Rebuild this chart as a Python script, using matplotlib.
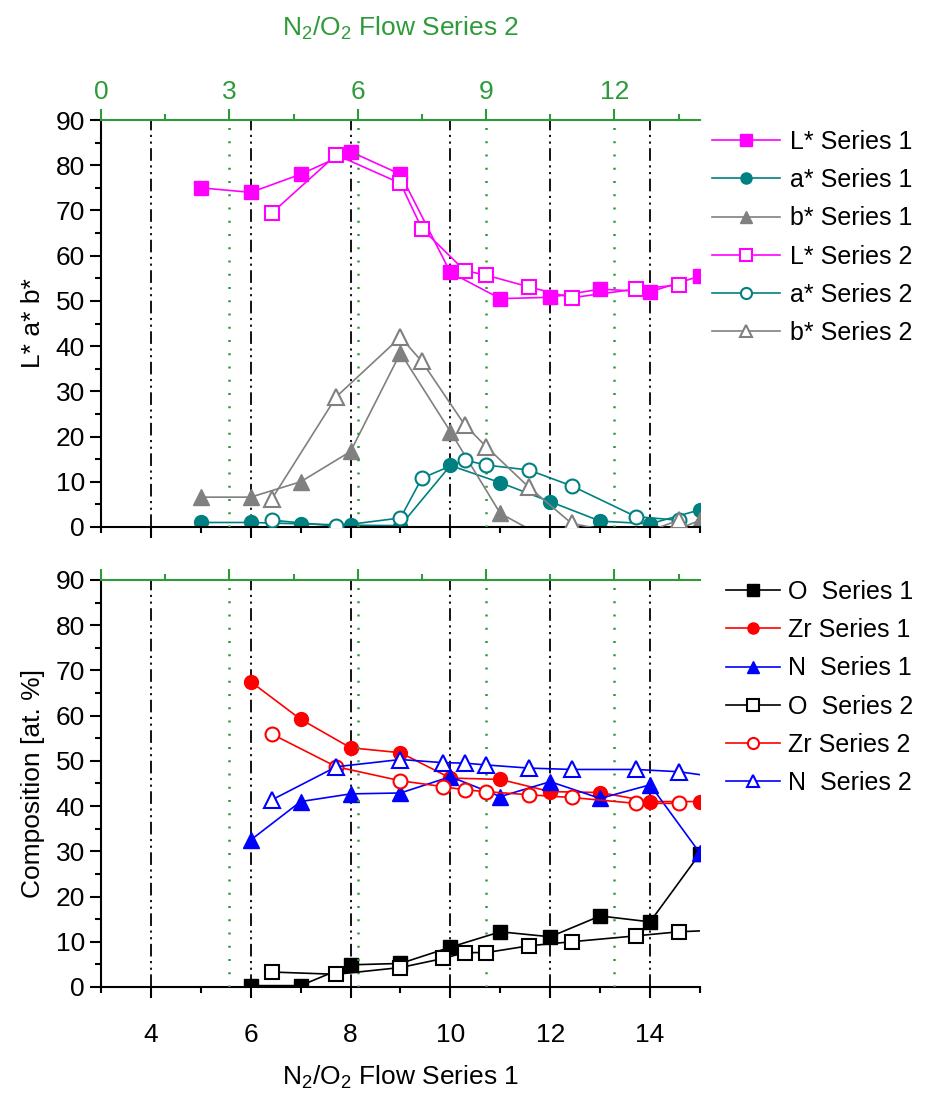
import numpy as np
import matplotlib
matplotlib.use("Agg")
import matplotlib.pyplot as plt
from matplotlib.ticker import MultipleLocator

plt.rcParams['font.family'] = ['Liberation Sans', 'DejaVu Sans']
plt.rcParams['mathtext.default'] = 'regular'

# ---- data: series 1 (bottom axis) ----
x_lab1 = [5, 6, 7, 8, 9, 10, 11, 12, 13, 14, 15]
L_s1 = [75, 74, 78, 83, 78, 56.3, 50.5, 50.8, 52.6, 52, 55.5]
a_s1 = [1, 1, 0.7, 0.4, 0.3, 13.6, 9.8, 5.6, 1.3, 0.7, 3.8]
b_s1 = [6.6, 6.6, 10, 16.7, 38.5, 21.1, 3, -3, -3, -3, 1.5]

# ---- data: series 2 (top axis) ----
x_lab2 = [4, 5.5, 7, 7.5, 8.5, 9, 10, 11, 12.5, 13.5]
L_s2 = [69.5, 82.3, 76, 66, 56.7, 55.7, 53.1, 50.7, 52.6, 53.5]
a_s2 = [1.5, 0.2, 2, 10.8, 14.8, 13.7, 12.6, 9.1, 2.3, 1.5]
b_s2 = [6.3, 28.8, 42, 36.6, 22.6, 17.8, 8.8, 0.8, -2, 1.5]

# ---- composition ----
x_comp1 = [6, 7, 8, 9, 10, 11, 12, 13, 14, 15]
O_s1 = [0.3, 0.3, 4.9, 5.2, 8.8, 12.2, 11.1, 15.7, 14.4, 29.5]
Zr_s1 = [67.5, 59.2, 52.9, 51.8, 46.2, 45.9, 43.2, 43, 41, 41]
N_s1 = [32.5, 41, 42.7, 42.9, 46.5, 42.1, 45.4, 41.7, 44.7, 29.6]

x_comp2 = [4, 5.5, 7, 8, 8.5, 9, 10, 11, 12.5, 13.5, 14.5]
O_s2 = [3.3, 2.8, 4.3, 6.3, 7.6, 7.6, 9.1, 10, 11.3, 12.2, 12.6]
Zr_s2 = [55.9, 48.7, 45.6, 44.3, 43.6, 43.2, 42.5, 41.9, 40.6, 40.6]
N_s2 = [41.4, 48.7, 50.3, 49.6, 49.5, 49.1, 48.4, 48.1, 48.1, 47.6, 46.3]

x1_ticks = [4, 6, 8, 10, 12, 14]
x2_ticks = [0, 3, 6, 9, 12]

GREEN = '#2E9B3A'
MAG = '#FF00FF'
TEAL = '#008080'
GRAY = '#808080'
FS = 19
LFS = 18

fig = plt.figure(figsize=(9.28, 10.97), dpi=100)
ax_top = fig.add_axes([0.1088, 0.5196, 0.6455, 0.371])
ax_bot = fig.add_axes([0.1088, 0.1003, 0.6455, 0.371])

dashdotdot = (0, (7, 2.5, 1.2, 2.5, 1.2, 2.5))


def setup(ax, show_xlabels):
    ax.set_xlim(3, 15)
    ax.set_ylim(0, 90)
    ax.set_xticks(x1_ticks)
    ax.xaxis.set_minor_locator(MultipleLocator(1))
    ax.yaxis.set_major_locator(MultipleLocator(10))
    ax.yaxis.set_minor_locator(MultipleLocator(5))
    ax.spines['top'].set_visible(False)
    ax.spines['right'].set_visible(False)
    for s in ['left', 'bottom']:
        ax.spines[s].set_linewidth(1.5)
    ax.tick_params(which='major', direction='out', length=8, width=1.5, labelsize=FS)
    ax.tick_params(which='minor', direction='out', length=4, width=1.5)
    ax.tick_params(axis='x', pad=18)
    if not show_xlabels:
        ax.tick_params(axis='x', labelbottom=False)
    for xv in x1_ticks:
        ax.axvline(xv, color='black', lw=1.3, ls=dashdotdot, zorder=0)
    tw = ax.twiny()
    tw.set_xlim(0, 14)
    tw.set_ylim(0, 90)
    tw.set_xticks(x2_ticks)
    tw.xaxis.set_minor_locator(MultipleLocator(1.5))
    for s in ['left', 'right', 'bottom']:
        tw.spines[s].set_visible(False)
    tw.spines['top'].set_color(GREEN)
    tw.spines['top'].set_linewidth(1.5)
    tw.tick_params(axis='x', which='major', direction='out', length=8, width=1.5,
                   color=GREEN, labelcolor=GREEN, labelsize=FS)
    tw.tick_params(axis='x', which='minor', direction='out', length=4, width=1.5, color=GREEN)
    tw.tick_params(axis='y', left=False, right=False, labelleft=False, labelright=False)
    for xv in x2_ticks[1:]:
        tw.axvline(xv, color=GREEN, lw=1.8, ls=(0, (0.8, 4.5)), zorder=0)
    return tw


tw_top = setup(ax_top, False)
tw_bot = setup(ax_bot, True)
tw_bot.tick_params(axis='x', labeltop=False)

ms = 10
lw = 1.2

# top panel
h1 = ax_top.plot(x_lab1, L_s1, '-s', color=MAG, ms=ms, lw=lw, label='L* Series 1')[0]
h2 = ax_top.plot(x_lab1, a_s1, '-o', color=TEAL, ms=ms, lw=lw, label='a* Series 1')[0]
h3 = ax_top.plot(x_lab1, b_s1, '-^', color=GRAY, ms=ms + 1, lw=lw, label='b* Series 1')[0]
h4 = tw_top.plot(x_lab2, L_s2, '-s', color=MAG, mfc='white', mew=1.5, ms=ms, lw=lw, label='L* Series 2')[0]
h5 = tw_top.plot(x_lab2, a_s2, '-o', color=TEAL, mfc='white', mew=1.5, ms=ms, lw=lw, label='a* Series 2')[0]
h6 = tw_top.plot(x_lab2, b_s2, '-^', color=GRAY, mfc='white', mew=1.5, ms=ms + 1, lw=lw, label='b* Series 2')[0]

# bottom panel
g1 = ax_bot.plot(x_comp1, O_s1, '-s', color='black', ms=ms, lw=lw, label='O  Series 1')[0]
g2 = ax_bot.plot(x_comp1, Zr_s1, '-o', color='red', ms=ms, lw=lw, label='Zr Series 1')[0]
g3 = ax_bot.plot(x_comp1, N_s1, '-^', color='blue', ms=ms + 1, lw=lw, label='N  Series 1')[0]
g4 = tw_bot.plot(x_comp2, O_s2, '-s', color='black', mfc='white', mew=1.5, ms=ms, lw=lw, label='O  Series 2')[0]
g5 = tw_bot.plot(x_comp2[:len(Zr_s2)], Zr_s2, '-o', color='red', mfc='white', mew=1.5, ms=ms, lw=lw, label='Zr Series 2')[0]
g6 = tw_bot.plot(x_comp2, N_s2, '-^', color='blue', mfc='white', mew=1.5, ms=ms + 1, lw=lw, label='N  Series 2')[0]

ax_top.set_ylabel('L* a* b*', fontsize=FS, labelpad=8)
ax_bot.set_ylabel('Composition [at. %]', fontsize=FS, labelpad=8)
ax_bot.set_xlabel('N$_2$/O$_2$ Flow Series 1', fontsize=FS, labelpad=12)
tw_top.set_xlabel('N$_2$/O$_2$ Flow Series 2', fontsize=FS, color=GREEN, labelpad=32)

fig.legend(handles=[h1, h2, h3, h4, h5, h6], loc='upper left',
           bbox_to_anchor=(0.767, 0.8815), frameon=False, fontsize=LFS,
           handlelength=2.72, handletextpad=0.4, labelspacing=0.57,
           markerscale=0.8, borderaxespad=0, borderpad=0)
fig.legend(handles=[g1, g2, g3, g4, g5, g6], loc='upper left',
           bbox_to_anchor=(0.782, 0.4713), frameon=False, fontsize=LFS,
           handlelength=2.16, handletextpad=0.35, labelspacing=0.57,
           markerscale=0.8, borderaxespad=0, borderpad=0)

fig.savefig('out.png', dpi=100)
